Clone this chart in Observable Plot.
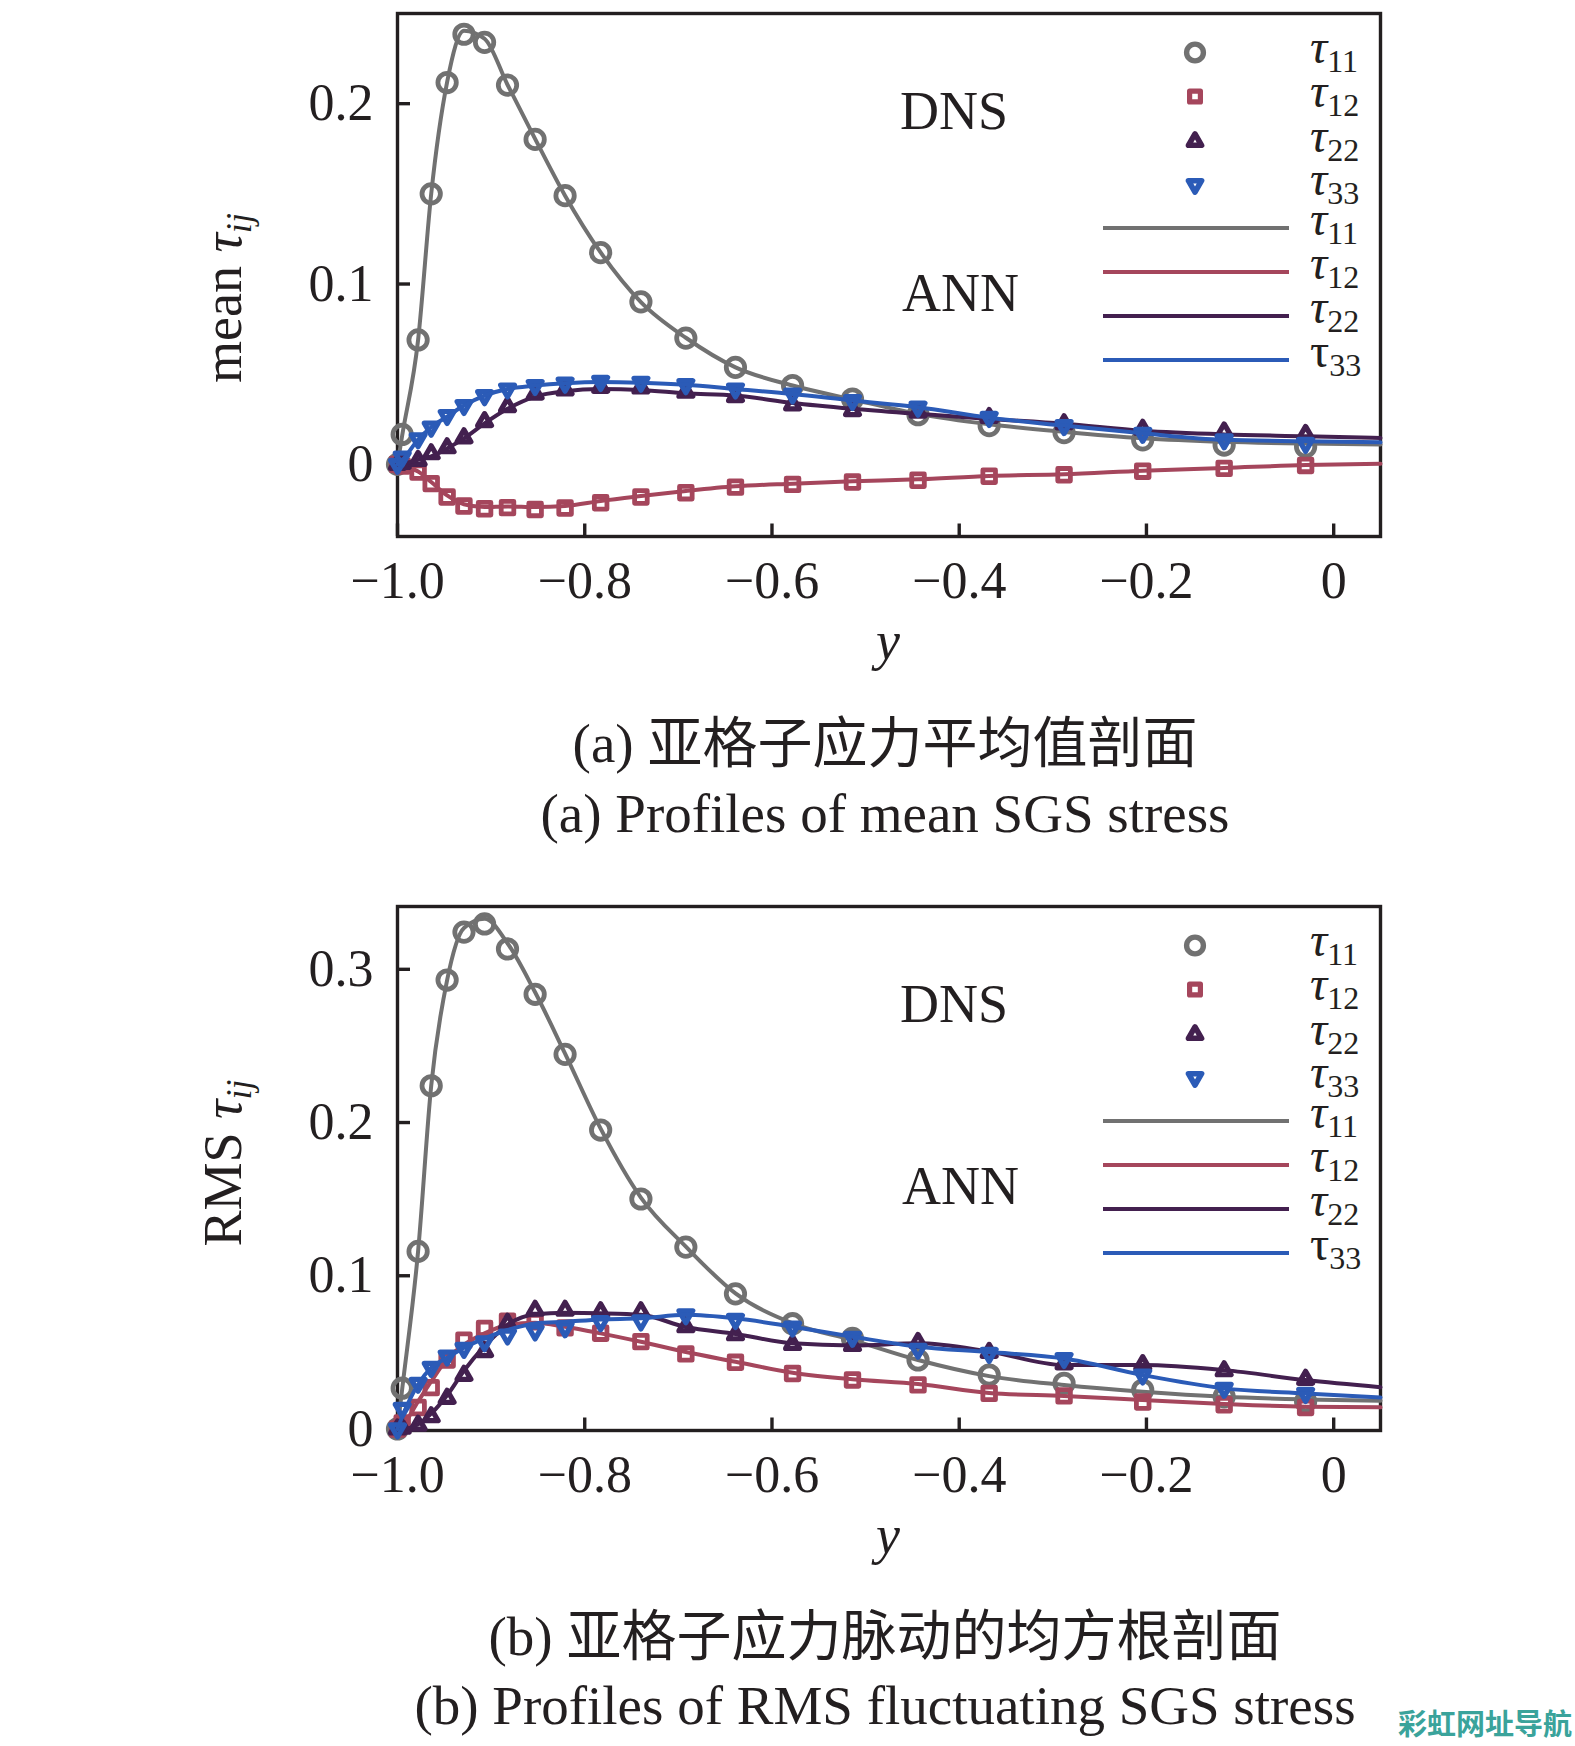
<!DOCTYPE html>
<html><head><meta charset="utf-8">
<script src="https://cdn.jsdelivr.net/npm/d3@7"></script>
<script src="https://cdn.jsdelivr.net/npm/@observablehq/plot@0.6"></script>
<style>
html,body{margin:0;padding:0;background:#fff;overflow:hidden}
#wrap{position:relative;width:1575px;height:1746px;background:#fff}
.pl{position:absolute;left:0;width:1575px}
.cap{position:absolute;left:195px;width:1380px;text-align:center;color:#231f20;white-space:nowrap;font-family:"Liberation Serif","Noto Sans CJK SC",serif}
.zh{font-size:55px;line-height:55px}
.en{font-size:55px;line-height:55px}
#wm{position:absolute;left:1398px;top:1706px;font-family:"Noto Sans CJK SC";font-weight:bold;font-size:29px;line-height:32px;color:#3aa39b;white-space:nowrap}
</style></head><body>
<div id="wrap">
 <div id="p1" class="pl" style="top:0"></div>
 <div id="p2" class="pl" style="top:880px"></div>
 <div class="cap zh" style="top:716px">(a) 亚格子应力平均值剖面</div>
 <div class="cap en" style="top:786px">(a) Profiles of mean SGS stress</div>
 <div class="cap zh" style="top:1609px">(b) 亚格子应力脉动的均方根剖面</div>
 <div class="cap en" style="top:1678px">(b) Profiles of RMS fluctuating SGS stress</div>
 <div id="wm">彩虹网址导航</div>
</div>
<script>
// ---------- data ----------
const xTicks = [-1.0, -0.8, -0.6, -0.4, -0.2, 0];
const yTicksMean = [0, 0.1, 0.2];
const yTicksRms = [0, 0.1, 0.2, 0.3];

const posDNS = [-1.0, -0.995, -0.978, -0.964, -0.947, -0.929, -0.907, -0.8825, -0.853, -0.821, -0.783, -0.740, -0.692, -0.639, -0.578, -0.514, -0.444, -0.368, -0.288, -0.204, -0.117, -0.030];
const posANN = [-1.0, -0.995, -0.978, -0.964, -0.947, -0.929, -0.907, -0.8825, -0.853, -0.821, -0.783, -0.740, -0.692, -0.639, -0.578, -0.514, -0.444, -0.368, -0.288, -0.204, -0.117, -0.030, 0.05];

const meanDNS11 = [0, 0.0166, 0.069, 0.150, 0.2117, 0.2385, 0.234, 0.2103, 0.1802, 0.149, 0.1174, 0.0901, 0.070, 0.0538, 0.0437, 0.0362, 0.0275, 0.0215, 0.0176, 0.0136, 0.0107, 0.0097];
const meanDNS12 = [0, -0.001, -0.0043, -0.0107, -0.0181, -0.0231, -0.0246, -0.024, -0.025, -0.0242, -0.0213, -0.0181, -0.0157, -0.0126, -0.0111, -0.0098, -0.0088, -0.0066, -0.0058, -0.0038, -0.0022, -0.0006];
const meanDNS22 = [0, 0.0005, 0.0022, 0.0059, 0.0092, 0.0147, 0.0237, 0.032, 0.039, 0.0413, 0.0427, 0.0424, 0.040, 0.0376, 0.033, 0.0298, 0.029, 0.026, 0.0225, 0.0195, 0.018, 0.0166];
const meanDNS33 = [0, 0.004, 0.0142, 0.0206, 0.0271, 0.0326, 0.0381, 0.0418, 0.0437, 0.045, 0.046, 0.0455, 0.0442, 0.0418, 0.039, 0.0354, 0.0317, 0.026, 0.0215, 0.0172, 0.0136, 0.0116];

const meanANN11 = [0, 0.016, 0.069, 0.150, 0.212, 0.2405, 0.236, 0.2105, 0.1805, 0.149, 0.1175, 0.090, 0.0702, 0.0538, 0.0437, 0.036, 0.028, 0.0222, 0.018, 0.0145, 0.0125, 0.0115, 0.011];
const meanANN12 = [0, -0.0008, -0.004, -0.0098, -0.0172, -0.0221, -0.0237, -0.0233, -0.0237, -0.0231, -0.0203, -0.0176, -0.0148, -0.0122, -0.0107, -0.0094, -0.0083, -0.0064, -0.0055, -0.0035, -0.002, -0.0004, 0.0003];
const meanANN22 = [0, 0.0004, 0.0025, 0.0044, 0.0088, 0.0144, 0.0227, 0.0308, 0.0376, 0.0406, 0.0418, 0.0413, 0.0394, 0.0382, 0.034, 0.0308, 0.028, 0.0252, 0.0225, 0.0186, 0.0166, 0.0156, 0.0146];
const meanANN33 = [0, 0.0022, 0.0138, 0.0206, 0.0265, 0.0326, 0.0381, 0.0418, 0.0437, 0.045, 0.0457, 0.0453, 0.0442, 0.0418, 0.039, 0.0354, 0.0317, 0.0258, 0.0215, 0.0172, 0.0136, 0.0128, 0.0122];

const rmsDNS11 = [0, 0.0266, 0.1159, 0.224, 0.293, 0.3243, 0.3296, 0.3133, 0.2837, 0.2445, 0.1951, 0.1501, 0.1187, 0.0882, 0.0687, 0.0591, 0.045, 0.0352, 0.0298, 0.0254, 0.021, 0.018];
const rmsDNS12 = [0, 0.004, 0.014, 0.027, 0.045, 0.058, 0.0656, 0.0704, 0.070, 0.066, 0.0625, 0.057, 0.049, 0.0435, 0.0362, 0.032, 0.0288, 0.0232, 0.0216, 0.0176, 0.0158, 0.014];
const rmsDNS22 = [0, 0.0005, 0.0025, 0.008, 0.02, 0.035, 0.0505, 0.069, 0.0775, 0.0775, 0.0765, 0.0765, 0.0667, 0.0615, 0.0552, 0.0545, 0.0565, 0.050, 0.0425, 0.042, 0.038, 0.0324];
const rmsDNS33 = [0, 0.0134, 0.0298, 0.0402, 0.0476, 0.0526, 0.0569, 0.0613, 0.064, 0.066, 0.070, 0.0705, 0.0745, 0.0715, 0.0665, 0.0598, 0.052, 0.0493, 0.046, 0.0352, 0.0265, 0.0232];

const rmsANN11 = [0, 0.026, 0.116, 0.224, 0.293, 0.327, 0.333, 0.317, 0.285, 0.245, 0.196, 0.151, 0.119, 0.0885, 0.0689, 0.058, 0.045, 0.0345, 0.0287, 0.0243, 0.021, 0.0193, 0.0184];
const rmsANN12 = [0, 0.002, 0.018, 0.031, 0.0457, 0.055, 0.0624, 0.0678, 0.0693, 0.0667, 0.0624, 0.0569, 0.0502, 0.0439, 0.0367, 0.0324, 0.0293, 0.0235, 0.0215, 0.0189, 0.0163, 0.0145, 0.0141];
const rmsANN22 = [0, 0.0, 0.003, 0.010, 0.022, 0.038, 0.054, 0.068, 0.0748, 0.0758, 0.0755, 0.0745, 0.0665, 0.062, 0.0559, 0.0545, 0.0559, 0.0505, 0.0417, 0.0417, 0.0384, 0.0319, 0.0272];
const rmsANN33 = [0, 0.008, 0.029, 0.040, 0.0465, 0.053, 0.0591, 0.0646, 0.0689, 0.070, 0.0715, 0.0722, 0.0745, 0.0722, 0.0667, 0.0602, 0.0537, 0.0502, 0.046, 0.0352, 0.0265, 0.0232, 0.0206];

const seriesKeys = ["11", "12", "22", "33"];
const seriesColors = ["#717171", "#a5465c", "#43204f", "#2b5bb7"];

// ---------- symbols ----------
const R = s => Math.sqrt(s / Math.PI);
const circleSym = {draw(c, s) { const r = R(s); c.moveTo(r, 0); c.arc(0, 0, r, 0, 2 * Math.PI); c.closePath(); }};
const squareSym = {draw(c, s) { const r = R(s); c.moveTo(-r, -r); c.lineTo(r, -r); c.lineTo(r, r); c.lineTo(-r, r); c.closePath(); }};
const triUpSym = {draw(c, s) { const r = R(s); c.moveTo(0, -r); c.lineTo(r * 0.866, r * 0.5); c.lineTo(-r * 0.866, r * 0.5); c.closePath(); }};
const triDownSym = {draw(c, s) { const r = R(s); c.moveTo(0, r); c.lineTo(r * 0.866, -r * 0.5); c.lineTo(-r * 0.866, -r * 0.5); c.closePath(); }};
const syms = [circleSym, squareSym, triUpSym, triDownSym];
const symR = [9.2, 6.3, 8.0, 8.0];
const symW = [4.8, 4.8, 5.2, 5.2];
const legR = [8.4, 5.4, 7.6, 7.6];
const legW = [5.4, 5.2, 5.6, 5.6];

const ink = "#231f20";
const fmt = d => d === 0 ? "0" : d3.format(".1f")(d).replace("-", "\u2212");

function build({dns, ann, yDomain, yTicks, height, mt, mb, yWord, yTitleY, domId}) {
  const marks = [
    Plot.frame({stroke: ink, strokeWidth: 3.4}),
    Plot.axisX({ticks: xTicks, tickSize: 0, tickPadding: 25, tickFormat: fmt, label: null, fontSize: 52, fill: ink}),
    Plot.axisX({ticks: xTicks, tickSize: -12.5, fill: "none", stroke: ink, strokeWidth: 3.4, label: null}),
    Plot.axisY({ticks: yTicks, tickSize: 0, tickPadding: 24, tickFormat: fmt, label: null, fontSize: 52, fill: ink}),
    Plot.axisY({ticks: yTicks, tickSize: -13, fill: "none", stroke: ink, strokeWidth: 3.4, label: null})
  ];
  for (let k = 0; k < 4; k++) {
    const dd = posDNS.map((p, i) => ({p, v: dns[k][i]}));
    const aa = posANN.map((p, i) => ({p, v: ann[k][i]}));
    marks.push(Plot.dot(dd, {x: "p", y: "v", symbol: syms[k], r: symR[k], stroke: seriesColors[k], strokeWidth: symW[k], fill: "none", strokeLinejoin: "round"}));
    marks.push(Plot.line(aa, {x: "p", y: "v", stroke: seriesColors[k], strokeWidth: 4, curve: "monotone-x", strokeLinejoin: "round"}));
  }
  const svg = Plot.plot({
    width: 1575, height,
    marginLeft: 397, marginRight: 195, marginTop: mt, marginBottom: mb,
    x: {domain: [-1, 0.05]},
    y: {domain: yDomain},
    style: {fontFamily: "Liberation Serif", fontSize: "52px", color: ink, background: "transparent"},
    marks
  });
  const frameTop = mt, frameBottom = height - mb;
  const g = d3.select(svg).append("g").style("font-family", "Liberation Serif").attr("fill", ink).attr("text-anchor", "start");
  // y title
  const t = g.append("text").attr("transform", `translate(241,${yTitleY}) rotate(-90)`).attr("text-anchor", "middle").attr("font-size", 54);
  t.append("tspan").text(yWord + " ");
  t.append("tspan").attr("font-style", "italic").text("τ");
  t.append("tspan").attr("font-style", "italic").attr("font-size", 36).attr("dy", 10).text("ij");
  // x title
  g.append("text").attr("x", 888).attr("y", frameBottom + 123).attr("text-anchor", "middle")
    .attr("font-size", 54).attr("font-style", "italic").text("y");
  // group labels
  g.append("text").attr("x", 900).attr("y", frameTop + 115.5).attr("font-size", 54).attr("text-anchor", "start").text("DNS");
  g.append("text").attr("x", 902).attr("y", frameTop + 297.5).attr("font-size", 54).attr("text-anchor", "start").text("ANN");
  // legend
  const mY = [39.5, 83.5, 128.5, 171.5], lY = [215, 259, 303, 347];
  for (let k = 0; k < 4; k++) {
    g.append("path").attr("transform", `translate(1195,${frameTop + mY[k]})`)
      .attr("d", d3.symbol().type(syms[k]).size(Math.PI * legR[k] * legR[k])())
      .attr("fill", "none").attr("stroke", seriesColors[k]).attr("stroke-width", legW[k]).attr("stroke-linejoin", "round");
    g.append("line").attr("x1", 1103).attr("x2", 1289).attr("y1", frameTop + lY[k]).attr("y2", frameTop + lY[k])
      .attr("stroke", seriesColors[k]).attr("stroke-width", 4);
    const a = g.append("text").attr("x", 1310).attr("y", frameTop + mY[k] + 10.5).attr("font-size", 48).attr("text-anchor", "start");
    a.append("tspan").attr("font-style", "italic").text("τ");
    a.append("tspan").attr("font-size", 32).attr("dy", 9).text(seriesKeys[k]);
    const b = g.append("text").attr("x", 1310).attr("y", frameTop + lY[k] + 7).attr("font-size", 48).attr("text-anchor", "start");
    b.append("tspan").attr("font-style", k === 3 ? "normal" : "italic").text("τ");
    b.append("tspan").attr("font-size", 32).attr("dy", 9).text(seriesKeys[k]);
  }
  document.getElementById(domId).appendChild(svg);
}

build({
  dns: [meanDNS11, meanDNS12, meanDNS22, meanDNS33],
  ann: [meanANN11, meanANN12, meanANN22, meanANN33],
  yDomain: [-0.04, 0.25], yTicks: yTicksMean,
  height: 690, mt: 13, mb: 154, yWord: "mean", yTitleY: 298, domId: "p1"
});
build({
  dns: [rmsDNS11, rmsDNS12, rmsDNS22, rmsDNS33],
  ann: [rmsANN11, rmsANN12, rmsANN22, rmsANN33],
  yDomain: [-0.001, 0.341], yTicks: yTicksRms,
  height: 700, mt: 26, mb: 150, yWord: "RMS", yTitleY: 283, domId: "p2"
});
</script>
</body></html>
